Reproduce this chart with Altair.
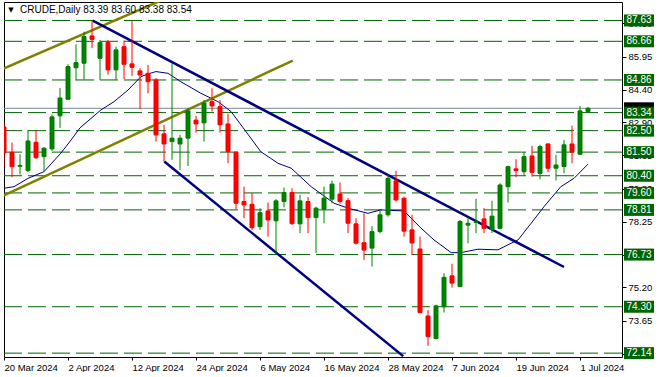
import altair as alt
import pandas as pd

# ---- data ----
dates = [d.strftime("%-d %b %Y") for d in pd.bdate_range("2024-03-20", "2024-07-02")
         if d != pd.Timestamp("2024-03-29")]

opens = [82.67, 81.49, 80.84, 80.64, 81.96, 81.29, 81.65, 83.19, 83.96, 85.43,
         85.64, 86.91, 85.87, 86.60, 85.33, 86.41, 85.61, 85.28, 85.17, 84.86,
         82.35, 81.99, 81.88, 82.15, 82.99, 82.86, 83.85, 83.62, 82.81, 81.50,
         79.20, 79.07, 78.03, 78.76, 78.30, 79.20, 79.62, 78.16, 79.20, 78.45,
         78.84, 79.31, 79.55, 79.24, 78.16, 77.28, 77.03, 77.80, 78.58, 80.16,
         79.35, 77.88, 76.99, 73.87, 72.82, 74.30, 75.74, 75.24, 78.10, 78.23,
         78.39, 77.90, 77.95, 79.89, 80.72, 80.59, 81.32, 80.51, 81.88, 80.75,
         80.83, 81.88, 81.40, 83.39]
highs = [82.86, 81.94, 81.40, 82.53, 82.53, 81.74, 83.25, 84.49, 85.59, 86.52,
         87.11, 87.63, 86.72, 86.72, 86.41, 86.69, 87.62, 85.41, 85.56, 84.95,
         82.77, 85.66, 82.30, 83.56, 83.18, 83.93, 84.47, 83.93, 83.28, 81.52,
         79.89, 79.58, 78.89, 79.15, 79.31, 79.85, 79.82, 79.51, 79.41, 78.96,
         79.89, 80.17, 80.08, 79.36, 78.42, 78.65, 78.06, 78.81, 80.44, 80.63,
         79.43, 78.58, 77.57, 74.15, 74.40, 75.86, 76.30, 78.34, 78.45, 79.33,
         78.89, 79.23, 80.05, 80.87, 81.17, 81.50, 81.79, 81.84, 81.91, 81.37,
         82.07, 82.73, 83.65, 83.60]
lows = [80.81, 80.33, 80.45, 80.58, 81.18, 80.59, 81.55, 82.63, 83.93, 84.83,
        84.86, 86.34, 84.86, 85.10, 84.86, 84.90, 85.05, 83.50, 84.24, 81.99,
        81.06, 81.14, 80.67, 80.85, 82.41, 81.99, 83.39, 82.41, 80.99, 78.84,
        78.42, 77.88, 77.88, 77.56, 76.76, 78.93, 78.11, 77.73, 77.73, 76.80,
        78.19, 79.12, 79.09, 77.73, 77.20, 76.48, 76.17, 77.72, 78.50, 79.20,
        77.56, 76.71, 74.00, 72.48, 72.78, 74.03, 75.19, 75.23, 77.26, 77.73,
        77.73, 77.73, 77.90, 79.15, 80.33, 80.41, 80.36, 80.23, 80.56, 80.18,
        80.52, 80.98, 81.40, 83.38]
closes = [81.46, 80.82, 80.88, 82.02, 81.24, 81.68, 83.14, 84.02, 85.48, 85.67,
          86.88, 86.75, 86.60, 85.33, 86.26, 85.59, 85.45, 85.09, 84.78, 82.30,
          81.88, 82.15, 82.15, 83.42, 82.81, 83.78, 83.65, 82.77, 81.52, 79.12,
          79.04, 77.98, 78.68, 78.34, 79.23, 79.62, 78.17, 79.23, 78.45, 78.89,
          79.36, 80.01, 79.20, 78.19, 77.26, 76.94, 77.80, 78.58, 80.28, 79.27,
          77.82, 77.27, 74.03, 72.91, 74.34, 75.67, 75.40, 78.27, 78.19, 78.25,
          77.95, 78.52, 79.97, 80.82, 80.64, 81.29, 80.56, 81.76, 80.75, 80.90,
          81.84, 81.50, 83.42, 83.54]

# moving average (bar position, value)
ma_pos = [0, 1.25, 3, 5, 7.1, 8.4, 9.5, 12.1, 13.75, 15.5, 17.1, 18, 19, 20.5, 22.1,
          24.6, 26.75, 28.4, 29.9, 32.1, 34.25, 35.9, 38.4, 41.25, 43, 45.5, 47.1,
          50, 52.1, 53.75, 55.9, 57.1, 59.25, 61.75, 63.4, 64.25, 65.9, 67.5, 69.6,
          71.25, 73]
ma_val = [79.82, 79.89, 80.28, 80.59, 81.45, 82.07, 82.63, 83.46, 83.85, 84.39,
          85.01, 85.14, 85.25, 85.17, 84.78, 84.24, 83.85, 83.38, 82.63, 81.52,
          80.98, 80.75, 79.89, 79.12, 78.89, 78.65, 78.81, 78.76, 77.97, 77.41,
          76.82, 76.82, 76.98, 76.95, 77.26, 77.41, 78.19, 78.96, 79.89, 80.28,
          80.94]

# trend lines (bar position, price)
blue_id = ["upper", "upper", "lower", "lower"]
blue_pos = [11.09, 70.0, 20.04, 49.9]
blue_val = [87.62, 76.15, 81.06, 72.0]
olive_id = ["upper", "upper", "lower", "lower"]
olive_pos = [-1.0, 20.0, -0.16, 36.09]
olive_val = [85.24, 88.62, 79.46, 85.76]

levels = [87.63, 86.66, 84.86, 83.34, 82.50, 81.50, 80.40, 79.60, 78.81, 76.73, 74.30, 72.14]
axis_ticks = [87.50, 85.95, 84.40, 82.90, 81.35, 79.80, 78.25, 76.70, 75.20, 73.65, 72.10]
bid = 83.54

# ---- build chart ----
df = pd.DataFrame({"i": range(len(opens)), "date": dates, "open": opens, "high": highs,
                   "low": lows, "close": closes})
df["dir"] = ["up" if c >= o else "down" for o, c in zip(opens, closes)]
ma_df = pd.DataFrame({"i": ma_pos, "v": ma_val})
blue_df = pd.DataFrame({"id": blue_id, "i": blue_pos, "v": blue_val})
olive_df = pd.DataFrame({"id": olive_id, "i": olive_pos, "v": olive_val})
lev_df = pd.DataFrame({"level": levels, "txt": [f"{v:.2f}" for v in levels]})
bid_df = pd.DataFrame({"level": [bid]})

FONT = "Liberation Sans"
W, H = 618, 355
xs = alt.Scale(domain=[0, 77.25], nice=False, zero=False, padding=0)
ys = alt.Scale(domain=[71.96, 88.49], nice=False, zero=False, padding=0)
label_arr = "[" + ",".join("'" + d + "'" for d in dates) + "]"
xaxis = alt.Axis(values=list(range(0, 73, 8)), labelExpr=label_arr + "[round(datum.value)]",
                 labelAlign="left", labelFont=FONT, labelFontSize=9.5, labelColor="black",
                 tickColor="black", tickSize=3, domain=False, grid=False, title=None,
                 labelPadding=2, labelFlush=False, labelOverlap=False)
yaxis = alt.Axis(orient="right", values=axis_ticks, format=".2f", labelFont=FONT,
                 labelFontSize=9.5, labelColor="black", tickColor="black", tickSize=4,
                 labelPadding=2, domain=False, grid=False, title=None, labelOverlap=False)

X = lambda f: alt.X(f, type="quantitative", scale=xs, axis=xaxis)
Y = lambda f: alt.Y(f, type="quantitative", scale=ys, axis=yaxis)
cscale = alt.Scale(domain=["up", "down"], range=["#008000", "#ff0000"])

levels_layer = alt.Chart(lev_df).mark_rule(color="#006400", strokeWidth=1,
                                           strokeDash=[18, 6]).encode(y=Y("level"))
bid_layer = alt.Chart(bid_df).mark_rule(color="#778899", strokeWidth=1).encode(y=Y("level"))

wicks = alt.Chart(df).mark_rule(strokeWidth=1, clip=True).encode(
    x=X("i"), y=Y("low"), y2="high",
    color=alt.Color("dir:N", scale=cscale, legend=None))
bodies = alt.Chart(df).mark_bar(size=4, strokeWidth=1, clip=True).encode(
    x=X("i"), y=Y("open"), y2="close",
    color=alt.Color("dir:N", scale=cscale, legend=None),
    stroke=alt.Stroke("dir:N", scale=cscale, legend=None))

ma_layer = alt.Chart(ma_df).mark_line(color="#000080", strokeWidth=1, clip=True).encode(
    x=X("i"), y=Y("v"))
blue_layer = alt.Chart(blue_df).mark_line(color="#000080", strokeWidth=2.5, clip=True).encode(
    x=X("i"), y=Y("v"), detail="id:N")
olive_layer = alt.Chart(olive_df).mark_line(color="#808000", strokeWidth=2.5, clip=True).encode(
    x=X("i"), y=Y("v"), detail="id:N")

BOX = "M-1,-0.4H1V0.4H-1Z"
bid_box = alt.Chart(bid_df).mark_point(shape=BOX, size=900, filled=True, color="black",
                                       opacity=1, strokeWidth=0).encode(
    x=alt.value(W + 17), y=Y("level"))
lev_box = alt.Chart(lev_df).mark_point(shape=BOX, size=900, filled=True, color="#006400",
                                       opacity=1, strokeWidth=0).encode(
    x=alt.value(W + 17), y=Y("level"))
lev_txt = alt.Chart(lev_df).mark_text(color="white", font=FONT, fontSize=10, align="center",
                                      baseline="middle").encode(
    x=alt.value(W + 17), y=Y("level"), text="txt:N")

header = f"CRUDE,Daily  {opens[-1]:.2f} {highs[-1]:.2f} {lows[-1]:.2f} {closes[-1]:.2f}"
hdr_df = pd.DataFrame({"t": [header]})
hdr = alt.Chart(hdr_df).mark_text(align="left", baseline="middle", font=FONT, fontSize=10,
                                  color="black").encode(
    x=alt.value(16), y=alt.value(8), text="t:N")
tri = alt.Chart(hdr_df).mark_text(align="center", baseline="middle", font="DejaVu Sans",
                                  fontSize=7, color="black").encode(
    x=alt.value(7), y=alt.value(8), text=alt.value("▼"))

chart = alt.layer(
    levels_layer, bid_layer, ma_layer, olive_layer, blue_layer, wicks, bodies,
    bid_box, lev_box, lev_txt, hdr, tri
).properties(
    width=W, height=H, padding={"left": 3, "top": 2, "right": 0, "bottom": 0},
    background="white"
).configure_view(stroke="black", strokeWidth=1)

chart.save("out.html", embed_options={"renderer": "svg", "actions": False})
